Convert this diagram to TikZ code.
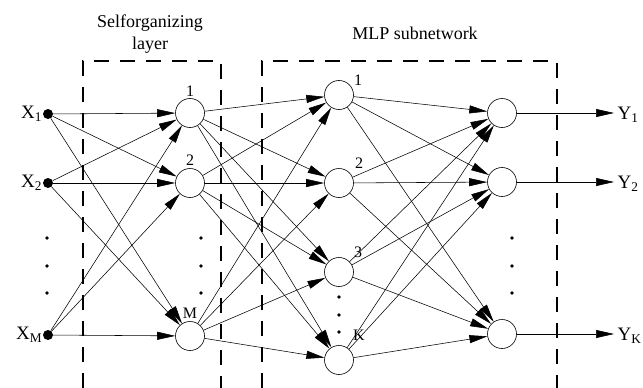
\documentclass[tikz,border=0pt]{standalone}
\usepackage{fontspec}
\setmainfont{Liberation Serif}
\usetikzlibrary{arrows.meta}

\tikzset{
  neuron/.style={draw, circle, minimum size=29pt, inner sep=0pt, line width=0.6pt},
  inp/.style={circle, fill=black, minimum size=10pt, inner sep=0pt},
  conn/.style={line width=0.55pt, -{Triangle[length=18pt,width=8pt]}},
  layerbox/.style={line width=1.3pt, dash pattern=on 15pt off 11pt},
  vdot/.style={circle, fill=black, minimum size=3.6pt, inner sep=0pt},
  num/.style={font=\fontsize{16}{16}\selectfont, inner sep=0pt},
  io/.style={font=\fontsize{19}{19}\selectfont, inner sep=0.5pt},
}

\begin{document}
\begin{tikzpicture}[x=1pt,y=1pt,yscale=-1]
\useasboundingbox (0,0) rectangle (643,388);

% dashed layer frames
\draw [layerbox] (83,388) -- (83,61) -- (221,61) -- (221,388);
\draw [layerbox] (262,388) -- (262,61) -- (557,61) -- (557,388);

% Text Node
\node (somtitle) at (150,34) [align=center, font=\fontsize{18}{22}\selectfont] {Selforganizing\\layer};
% Text Node
\node (mlptitle) at (415,33) [font=\fontsize{18}{18}\selectfont] {MLP subnetwork};

% inputs
\node [inp] (x1) at (48,114) {};
\node [inp] (x2) at (48,183) {};
\node [inp] (xm) at (48,335) {};
\node [io, anchor=east] (lx1) at (x1.west) {X\textsubscript{1}};
\node [io, anchor=east] (lx2) at (x2.west) {X\textsubscript{2}};
\node [io, anchor=east] (lxm) at (xm.west) {X\textsubscript{M}};

% selforganizing layer
\node [neuron] (s1) at (190,113) {};
\node [neuron] (s2) at (190,183) {};
\node [neuron] (sm) at (190,336) {};
\node [num] (ns1) at (190,91) {1};
\node [num] (ns2) at (190,160) {2};
\node [num] (nsm) at (190,313) {M};

% MLP hidden layer
\node [neuron] (h1) at (339,95) {};
\node [neuron] (h2) at (339,183) {};
\node [neuron] (h3) at (339,272) {};
\node [neuron] (hk) at (339,360) {};
\node [num] (nh1) at (358,80) {1};
\node [num] (nh2) at (359,163) {2};
\node [num] (nh3) at (358,252) {3};
\node [num] (nhk) at (359,335) {K};

% MLP output layer
\node [neuron] (o1) at (502,113) {};
\node [neuron] (o2) at (502,182) {};
\node [neuron] (ok) at (502,334) {};

% output arrows
\coordinate (e1) at (614,113);
\coordinate (e2) at (614,182);
\coordinate (ek) at (614,334);
\draw [conn] (o1) -- (e1);
\draw [conn] (o2) -- (e2);
\draw [conn] (ok) -- (ek);
\node [io, anchor=west] (ly1) at (617,115) {Y\textsubscript{1}};
\node [io, anchor=west] (ly2) at (617,184) {Y\textsubscript{2}};
\node [io, anchor=west] (lyk) at (617,336) {Y\textsubscript{K}};

% vertical dots
\foreach \yy [count=\i] in {238,266,293} {
  \node [vdot] (dx\i) at (47,\yy) {};
  \node [vdot] (ds\i) at (201,\yy) {};
  \node [vdot] (do\i) at (512,\yy) {};
}
\foreach \yy [count=\i] in {297,315,332}
  \node [vdot] (dh\i) at (339,\yy) {};

% weights
\foreach \a in {x1,x2,xm}
  \foreach \b in {s1,s2,sm}
    \draw [conn] (\a) -- (\b);
\foreach \a in {s1,s2,sm}
  \foreach \b in {h1,h2,h3,hk}
    \draw [conn] (\a) -- (\b);
\foreach \a in {h1,h2,h3,hk}
  \foreach \b in {o1,o2,ok}
    \draw [conn] (\a) -- (\b);

\end{tikzpicture}
\end{document}
